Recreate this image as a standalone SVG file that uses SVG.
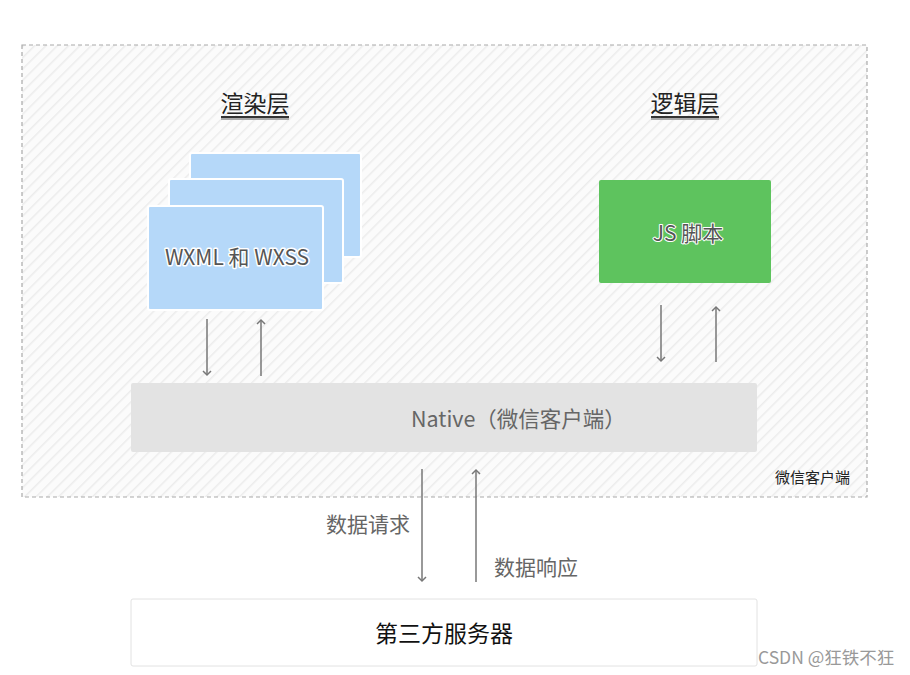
<svg xmlns="http://www.w3.org/2000/svg" width="910" height="675" viewBox="0 0 910 675">
<defs>
<pattern id="hatch" width="8" height="8" patternUnits="userSpaceOnUse" patternTransform="rotate(45)">
<rect width="8" height="8" fill="#fbfbfb"/>
<line x1="0" y1="0" x2="0" y2="8" stroke="#ececec" stroke-width="3"/>
</pattern>
<marker id="ah" markerWidth="10" markerHeight="10" refX="5" refY="5" orient="auto" markerUnits="userSpaceOnUse">
<path d="M1,1 L5,5 L1,9" fill="none" stroke="#777" stroke-width="1.5"/>
</marker>
</defs>
<style>
text{font-family:"Noto Sans CJK SC","Noto Sans",sans-serif}
.title{font-size:23px;fill:#222;text-anchor:middle}
.lbl{font-size:21px;fill:#666}
.conn line{stroke:#777;stroke-width:1.5;marker-end:url(#ah)}
.card{fill:#b5d8f9;stroke:#fff;stroke-width:2}
.outline{stroke:#fff;stroke-width:3;paint-order:stroke;stroke-linejoin:round}
.ul{fill:#333}
.ulsh{fill:#aaa}
</style>
<rect width="910" height="675" fill="#fff"/>
<g id="client">
<rect x="22" y="45" width="845" height="452" fill="url(#hatch)" stroke="#aaa" stroke-width="1.2" stroke-dasharray="4,3"/>
<text x="850" y="483" font-size="15" fill="#222" text-anchor="end">微信客户端</text>
</g>
<g id="render-title">
<text class="title" x="255" y="112">渲染层</text>
<rect class="ulsh" x="221" y="117" width="68" height="3"/>
<rect class="ul" x="221" y="116" width="68" height="2"/>
</g>
<g id="logic-title">
<text class="title" x="685" y="112">逻辑层</text>
<rect class="ulsh" x="651" y="117" width="68" height="3"/>
<rect class="ul" x="651" y="116" width="68" height="2"/>
</g>
<g id="render">
<rect class="card" x="190" y="153" width="171" height="104" rx="2"/>
<rect class="card" x="169" y="179" width="174" height="104" rx="2"/>
<rect class="card" x="148" y="206" width="175" height="104" rx="2"/>
<text class="outline" x="237" y="265" font-size="21" fill="#555" text-anchor="middle">WXML 和 WXSS</text>
</g>
<g id="js">
<rect x="599" y="180" width="172" height="103" rx="2" fill="#5ec35e"/>
<text class="outline" x="688" y="241" font-size="21" fill="#555" text-anchor="middle" style="stroke-width:2">JS 脚本</text>
</g>
<g id="native">
<rect x="131" y="383" width="626" height="69" rx="2" fill="#e3e3e3"/>
<text x="411" y="427" font-size="21.5" fill="#666">Native（微信客户端）</text>
</g>
<g id="server">
<rect x="131" y="599" width="626" height="67" rx="2" fill="#fff" stroke="#e2e2e2" stroke-width="1"/>
<text x="444" y="642" font-size="23" fill="#111" text-anchor="middle">第三方服务器</text>
</g>
<g class="conn" id="connectors">
<line x1="207" y1="319" x2="207" y2="375"/>
<line x1="261" y1="376" x2="261" y2="320"/>
<line x1="661" y1="305" x2="661" y2="361"/>
<line x1="716" y1="362" x2="716" y2="307"/>
<line x1="422" y1="469" x2="422" y2="581"/>
<line x1="476" y1="582" x2="476" y2="470"/>
</g>
<g id="labels">
<text class="lbl" x="326" y="532">数据请求</text>
<text class="lbl" x="494" y="575">数据响应</text>
</g>
<text x="758" y="664" font-size="17.5" fill="#999">CSDN @狂铁不狂</text>
</svg>
